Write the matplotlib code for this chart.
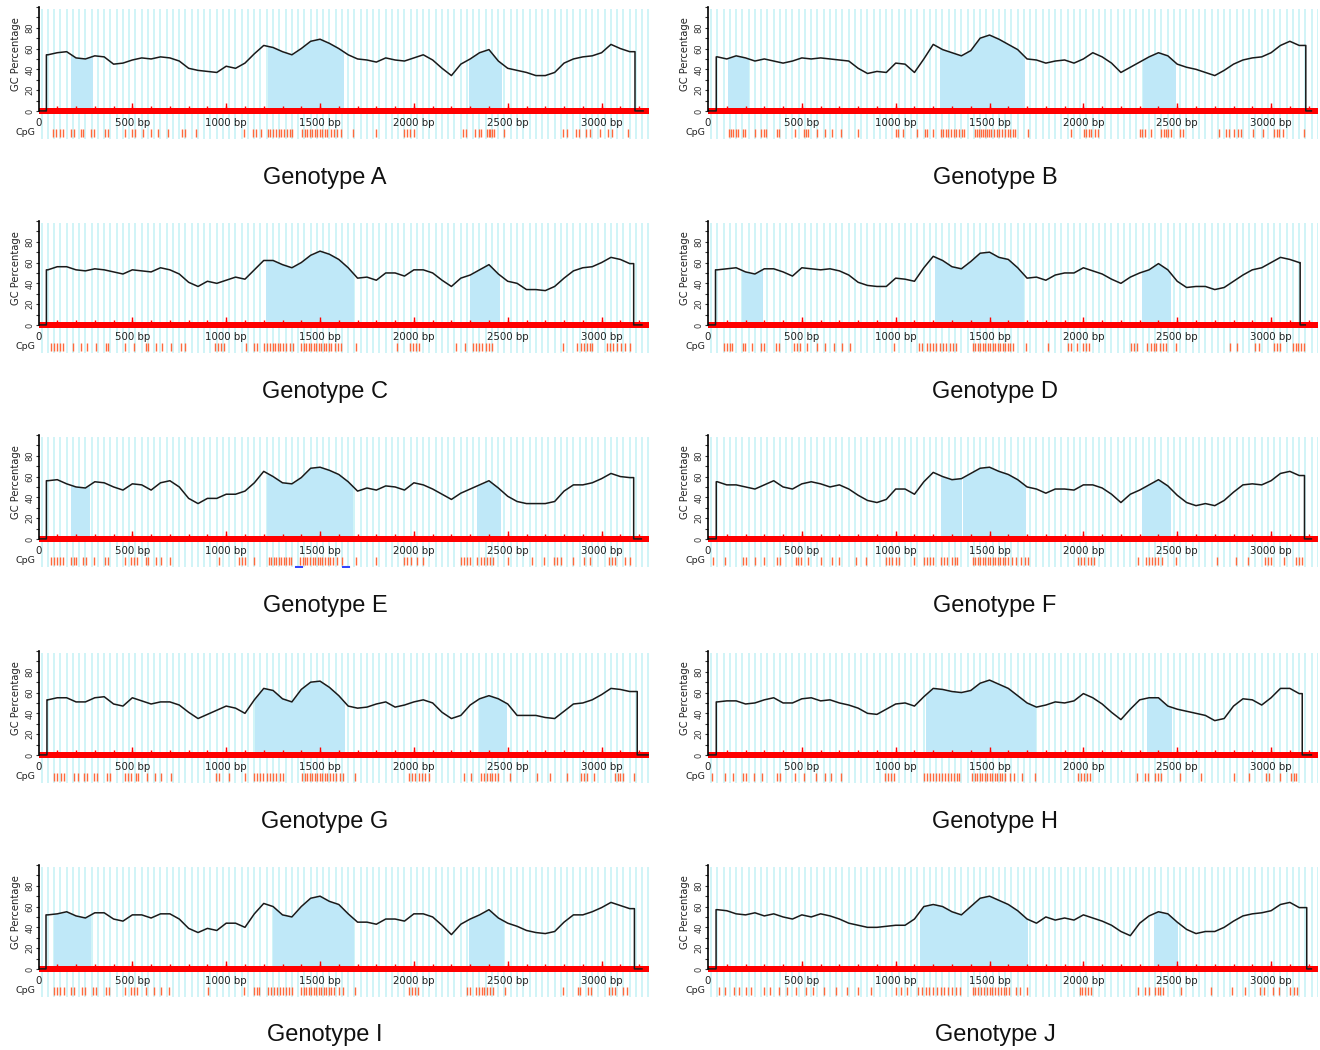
import matplotlib.pyplot as plt
from matplotlib.patches import Rectangle
from matplotlib.transforms import blended_transform_factory
import numpy as np

WIN_POS = list(range(50, 3151, 50))

GC_A = [54, 56, 57, 51, 50, 53, 52, 45, 46, 49, 51, 50, 52, 51, 48, 41, 39, 38, 37, 43,
        41, 46, 55, 63, 61, 57, 54, 60, 67, 69, 65, 60, 54, 50, 49, 47, 51, 49, 48, 51,
        54, 49, 41, 34, 45, 50, 56, 59, 48, 41, 39, 37, 34, 34, 37, 46, 50, 52, 53, 56,
        64, 60, 57]
GC_B = [52, 50, 53, 51, 48, 50, 48, 46, 48, 51, 50, 51, 50, 49, 48, 41, 36, 38, 37, 46,
        45, 37, 50, 64, 59, 56, 53, 58, 70, 73, 69, 64, 59, 50, 49, 46, 48, 49, 46, 50,
        56, 52, 46, 37, 42, 47, 52, 56, 53, 45, 42, 40, 37, 34, 39, 45, 49, 51, 52, 56,
        63, 67, 63]
GC_C = [53, 56, 56, 53, 52, 54, 53, 51, 49, 53, 52, 51, 55, 53, 49, 41, 37, 42, 40, 43,
        46, 44, 53, 62, 62, 58, 55, 60, 67, 71, 68, 63, 55, 45, 46, 43, 50, 50, 47, 53,
        53, 50, 43, 37, 45, 48, 53, 58, 49, 42, 40, 34, 34, 33, 37, 45, 52, 55, 56, 60,
        65, 63, 59]
GC_D = [53, 54, 55, 51, 49, 54, 54, 51, 47, 55, 54, 53, 54, 52, 48, 41, 38, 37, 37, 45,
        44, 42, 55, 66, 62, 56, 54, 61, 69, 70, 65, 63, 55, 45, 46, 43, 48, 50, 50, 55,
        52, 49, 44, 40, 46, 50, 53, 59, 53, 42, 36, 37, 37, 34, 36, 42, 48, 53, 55, 60,
        65, 63, 60]
GC_E = [56, 57, 53, 50, 49, 55, 54, 50, 47, 53, 52, 47, 54, 56, 50, 39, 34, 39, 39, 43,
        43, 46, 54, 65, 60, 54, 53, 59, 68, 69, 66, 62, 55, 46, 49, 47, 51, 50, 47, 54,
        52, 48, 43, 38, 44, 48, 52, 56, 49, 41, 36, 34, 34, 34, 36, 46, 52, 52, 54, 58,
        63, 60, 59]
GC_F = [55, 52, 52, 50, 48, 52, 56, 50, 48, 53, 55, 53, 50, 52, 48, 42, 37, 35, 38, 48,
        48, 43, 55, 64, 60, 57, 58, 63, 68, 69, 65, 62, 57, 50, 48, 44, 48, 48, 47, 52,
        52, 49, 43, 35, 43, 47, 52, 57, 51, 42, 35, 32, 34, 32, 37, 45, 52, 53, 52, 56,
        63, 65, 61]
GC_G = [53, 55, 55, 51, 51, 55, 56, 49, 47, 55, 52, 49, 51, 51, 48, 41, 35, 39, 43, 47,
        45, 40, 53, 64, 62, 54, 51, 63, 70, 71, 65, 57, 47, 45, 46, 49, 51, 46, 48, 51,
        53, 50, 41, 35, 38, 48, 54, 57, 54, 49, 38, 38, 38, 36, 35, 42, 49, 50, 53, 58,
        64, 63, 61]
GC_H = [51, 52, 52, 49, 50, 53, 55, 50, 50, 54, 55, 52, 53, 50, 48, 45, 40, 39, 44, 49,
        50, 47, 56, 64, 63, 61, 60, 62, 69, 72, 68, 64, 57, 50, 46, 48, 51, 50, 52, 59,
        55, 49, 41, 34, 44, 53, 55, 55, 47, 44, 42, 40, 38, 33, 35, 47, 54, 53, 48, 55,
        64, 64, 59]
GC_I = [52, 53, 55, 51, 49, 54, 54, 48, 46, 52, 52, 49, 53, 53, 48, 39, 35, 39, 37, 44,
        44, 40, 53, 63, 60, 52, 50, 60, 68, 70, 65, 62, 53, 45, 45, 43, 48, 48, 46, 53,
        53, 50, 42, 33, 43, 48, 52, 57, 49, 44, 41, 37, 35, 34, 36, 45, 52, 52, 55, 59,
        64, 61, 58]
GC_J = [57, 56, 53, 52, 54, 51, 53, 50, 48, 52, 50, 53, 51, 48, 44, 42, 40, 40, 41, 42,
        42, 48, 60, 62, 60, 55, 52, 60, 68, 70, 66, 62, 56, 48, 44, 50, 47, 49, 47, 52,
        49, 46, 42, 36, 32, 44, 51, 55, 53, 45, 38, 34, 36, 36, 40, 46, 51, 53, 54, 56,
        62, 64, 59]

CURVE_START = [42, 44, 42, 40, 42, 44, 45, 44, 40, 43]
CURVE_END = [3178, 3185, 3171, 3155, 3171, 3178, 3190, 3166, 3175, 3190]
GENOME_LEN = [3221, 3215, 3215, 3182, 3212, 3215, 3248, 3215, 3215, 3215]

# CpG islands (bp ranges, shaded)
ISL_A = [(175, 287), (1223, 1622), (2293, 2463)]
ISL_B = [(106, 213), (1234, 1360), (1366, 1681), (2319, 2489)]
ISL_C = [(1212, 1677), (2300, 2452)]
ISL_D = [(180, 286), (1210, 1677), (2310, 2462)]
ISL_E = [(171, 271), (1220, 1671), (2335, 2460)]
ISL_F = [(1244, 1350), (1356, 1689), (2311, 2462)]
ISL_G = [(1152, 1343), (1349, 1627), (2349, 2491)]
ISL_H = [(1160, 1740), (2340, 2468)]
ISL_I = [(80, 273), (1247, 1675), (2292, 2475)]
ISL_J = [(1128, 1364), (1370, 1700), (2378, 2500)]

# CpG dinucleotide positions
CPG_A = [78, 94, 112, 130, 174, 190, 224, 239, 280, 295, 353, 369, 459, 497, 515, 555, 600, 638,
         689, 765, 783, 839, 1096, 1141, 1157, 1186, 1221, 1235, 1248, 1264, 1280, 1293, 1309,
         1324, 1338, 1353, 1405, 1418, 1432, 1445, 1459, 1472, 1485, 1499, 1512, 1526, 1539,
         1557, 1575, 1593, 1611, 1673, 1796, 1946, 1964, 1980, 2002, 2260, 2277, 2327, 2345,
         2360, 2389, 2398, 2407, 2416, 2427, 2479, 2796, 2814, 2864, 2881, 2919, 2937, 2993,
         3036, 3054, 3143]
CPG_B = [110, 122, 135, 147, 160, 186, 199, 252, 284, 296, 309, 367, 379, 465, 509, 521, 532,
         580, 624, 663, 709, 798, 1002, 1014, 1039, 1112, 1156, 1168, 1200, 1241, 1254, 1266,
         1280, 1294, 1309, 1323, 1339, 1351, 1363, 1422, 1433, 1443, 1454, 1465, 1475, 1486,
         1496, 1507, 1525, 1539, 1553, 1567, 1582, 1596, 1610, 1624, 1638, 1706, 1936, 2004,
         2016, 2028, 2043, 2061, 2078, 2300, 2312, 2326, 2362, 2415, 2427, 2440, 2452, 2465,
         2513, 2530, 2725, 2761, 2778, 2805, 2823, 2840, 2903, 2956, 3018, 3032, 3044, 3062,
         3177]
CPG_C = [67, 82, 98, 116, 133, 182, 227, 260, 304, 360, 371, 460, 511, 571, 582, 627, 660, 704,
         760, 778, 938, 956, 971, 989, 1104, 1149, 1164, 1204, 1218, 1231, 1249, 1262, 1276,
         1289, 1304, 1320, 1338, 1356, 1400, 1413, 1427, 1440, 1453, 1467, 1480, 1493, 1507,
         1520, 1533, 1547, 1560, 1578, 1596, 1613, 1689, 1911, 1978, 1993, 2009, 2027, 2222,
         2271, 2316, 2333, 2349, 2364, 2382, 2400, 2416, 2793, 2871, 2889, 2904, 2922, 2938,
         2949, 3027, 3044, 3060, 3082, 3104, 3127, 3149]
CPG_D = [84, 100, 115, 130, 184, 199, 235, 283, 299, 361, 376, 460, 476, 491, 527, 582, 626,
         670, 715, 759, 991, 1124, 1139, 1168, 1184, 1199, 1217, 1235, 1252, 1270, 1288, 1305,
         1323, 1412, 1425, 1438, 1451, 1465, 1478, 1491, 1504, 1518, 1531, 1544, 1558, 1571,
         1584, 1597, 1611, 1624, 1695, 1810, 1920, 1936, 1965, 1998, 2013, 2029, 2252, 2268,
         2283, 2341, 2358, 2374, 2389, 2407, 2423, 2438, 2496, 2783, 2816, 2916, 2938, 3013,
         3031, 3049, 3115, 3131, 3146, 3162, 3177]
CPG_E = [67, 82, 98, 116, 133, 171, 187, 200, 238, 253, 298, 356, 371, 460, 493, 511, 527, 571,
         582, 627, 653, 698, 960, 1067, 1082, 1098, 1149, 1227, 1240, 1253, 1267, 1280, 1293,
         1307, 1320, 1333, 1347, 1393, 1407, 1420, 1433, 1447, 1460, 1473, 1487, 1500, 1513,
         1527, 1540, 1553, 1571, 1593, 1616, 1689, 1800, 1949, 1964, 1982, 2016, 2049, 2249,
         2267, 2282, 2298, 2338, 2356, 2371, 2387, 2404, 2422, 2504, 2627, 2693, 2749, 2764,
         2782, 2849, 2904, 2938, 3038, 3053, 3071, 3127, 3149]
CPG_F = [27, 89, 189, 204, 249, 300, 367, 382, 467, 482, 498, 533, 600, 662, 700, 789, 844, 951,
         967, 982, 1000, 1018, 1100, 1151, 1167, 1182, 1200, 1240, 1256, 1271, 1300, 1316, 1329,
         1411, 1424, 1438, 1451, 1464, 1478, 1491, 1504, 1518, 1531, 1544, 1558, 1571, 1584,
         1598, 1618, 1640, 1667, 1689, 1707, 1973, 1989, 2004, 2022, 2040, 2058, 2289, 2333,
         2351, 2367, 2382, 2400, 2418, 2493, 2711, 2811, 2878, 2967, 2982, 3000, 3067, 3133,
         3149, 3164]
CPG_G = [85, 101, 119, 136, 190, 208, 242, 257, 298, 311, 365, 380, 459, 477, 492, 521, 532,
         577, 622, 655, 705, 946, 964, 1013, 1098, 1148, 1163, 1179, 1195, 1215, 1233, 1251,
         1268, 1286, 1304, 1405, 1418, 1432, 1445, 1459, 1472, 1485, 1499, 1512, 1526, 1539,
         1553, 1568, 1586, 1604, 1622, 1685, 1975, 1991, 2007, 2025, 2043, 2060, 2078, 2266,
         2306, 2356, 2371, 2387, 2403, 2418, 2434, 2450, 2512, 2658, 2725, 2814, 2893, 2908,
         2924, 2960, 3069, 3085, 3100, 3116, 3172]
CPG_H = [22, 89, 133, 188, 200, 244, 288, 366, 381, 466, 510, 576, 621, 654, 710, 942, 958,
         973, 989, 1153, 1169, 1184, 1200, 1215, 1231, 1246, 1262, 1277, 1293, 1308, 1324, 1339,
         1408, 1421, 1435, 1448, 1461, 1475, 1488, 1501, 1514, 1528, 1541, 1554, 1568, 1585,
         1608, 1630, 1674, 1741, 1973, 1989, 2004, 2020, 2035, 2284, 2328, 2344, 2384, 2399,
         2415, 2517, 2627, 2805, 2882, 2971, 2987, 3049, 3104, 3120, 3135]
CPG_I = [84, 100, 117, 135, 173, 188, 232, 250, 290, 305, 361, 376, 460, 493, 511, 527, 571,
         615, 653, 697, 903, 1097, 1146, 1162, 1177, 1223, 1239, 1254, 1270, 1285, 1301, 1316,
         1334, 1350, 1400, 1414, 1427, 1440, 1454, 1467, 1480, 1493, 1507, 1520, 1533, 1546,
         1560, 1577, 1600, 1622, 1688, 1976, 1991, 2007, 2024, 2285, 2301, 2330, 2345, 2361,
         2376, 2392, 2407, 2423, 2485, 2794, 2872, 2887, 2927, 2945, 3038, 3053, 3069, 3115,
         3137]
CPG_J = [60, 90, 140, 165, 200, 230, 300, 330, 380, 420, 470, 520, 560, 620, 680, 740, 800,
         870, 1000, 1030, 1060, 1120, 1140, 1160, 1180, 1200, 1220, 1240, 1260, 1280, 1300,
         1320, 1340, 1410, 1425, 1440, 1455, 1470, 1485, 1500, 1515, 1530, 1545, 1560, 1575,
         1590, 1605, 1640, 1660, 1700, 1980, 1995, 2010, 2025, 2040, 2290, 2330, 2350, 2380,
         2395, 2410, 2425, 2520, 2680, 2790, 2860, 2940, 2960, 3010, 3040, 3100, 3120, 3140]

E_MARKS = [1387, 1638]  # small blue marks under genotype E CpG row

NAMES = ['A', 'B', 'C', 'D', 'E', 'F', 'G', 'H', 'I', 'J']
GC_ALL = [GC_A, GC_B, GC_C, GC_D, GC_E, GC_F, GC_G, GC_H, GC_I, GC_J]
ISL_ALL = [ISL_A, ISL_B, ISL_C, ISL_D, ISL_E, ISL_F, ISL_G, ISL_H, ISL_I, ISL_J]
CPG_ALL = [CPG_A, CPG_B, CPG_C, CPG_D, CPG_E, CPG_F, CPG_G, CPG_H, CPG_I, CPG_J]

W, H = 1320, 1050
XMAX = 3250
ROW_TOP = [7, 221, 435, 651, 865]
TITLE_Y = [178, 392, 606, 822, 1035]
COL_LEFT = [38.5, 708]
TITLE_X = [325, 995]
AX_W, AX_H = 610, 133

STRIPE = '#cdf3f7'
ISLAND = '#bfe8f8'
CPG_COL = '#ff6a3d'


def draw_panel(ax, i):
    gc = GC_ALL[i]
    ax.set_xlim(0, XMAX)
    ax.set_ylim(-28, 100)
    ax.vlines(np.arange(16, XMAX, 100 / 3), -27, 98, color=STRIPE, lw=1.3, zorder=0)

    x = [0, CURVE_START[i], CURVE_START[i]] + WIN_POS + [CURVE_END[i], CURVE_END[i], GENOME_LEN[i]]
    y = [0, 0, gc[0]] + gc + [gc[-1], 0, 0]

    for s, e in ISL_ALL[i]:
        f = ax.fill_between(x, 0, y, color=ISLAND, lw=0, zorder=1)
        f.set_clip_path(Rectangle((s, -1), e - s, 102, transform=ax.transData))

    # red sequence bar with ruler ticks
    ax.fill_between([0, XMAX], -2.8, 2.8, color='#ff0000', lw=0, zorder=2)
    ax.vlines(range(100, XMAX, 100), 2, 5, color='#ff0000', lw=1.0, zorder=2)
    ax.vlines(range(500, XMAX, 500), 2, 8, color='#ff0000', lw=1.0, zorder=2)

    ax.plot(x, y, color='#1a1a1a', lw=1.1, zorder=3)

    ax.vlines(CPG_ALL[i], -25, -17, color=CPG_COL, lw=1.0, zorder=2)
    if NAMES[i] == 'E':
        for m in E_MARKS:
            ax.plot([m - 15, m + 15], [-27, -27], color='#3344ff', lw=1.5, zorder=3)

    for k in range(0, 3001, 500):
        lab = '0' if k == 0 else f'{k} bp'
        ax.text(k, -11.5, lab, ha='center', va='center', fontsize=7.4, color='#222222')

    tr = blended_transform_factory(ax.transAxes, ax.transData)
    ax.text(-0.005, -21, 'CpG', transform=tr, ha='right', va='center',
            fontsize=6.8, color='#222222')
    ax.text(-0.037, 55, 'GC Percentage', transform=tr, ha='center', va='center',
            rotation=90, fontsize=7.2, color='#222222')

    for sp in ['top', 'right', 'bottom']:
        ax.spines[sp].set_visible(False)
    ax.spines['left'].set_bounds(0, 100)
    ax.spines['left'].set_linewidth(1.2)
    ax.spines['left'].set_zorder(4)
    ax.set_xticks([])
    ax.set_yticks([0, 20, 40, 60, 80])
    ax.set_yticks([10, 30, 50, 70, 90, 100], minor=True)
    ax.tick_params(axis='y', which='both', length=2.5, width=0.8, direction='out',
                   color='#333333', labelsize=6, labelcolor='#333333', pad=0.6)
    for t in ax.get_yticklabels():
        t.set_rotation(90)
        t.set_va('center')


fig = plt.figure(figsize=(W / 100, H / 100), dpi=100)
for i, name in enumerate(NAMES):
    row, col = divmod(i, 2)
    left = COL_LEFT[col] / W
    bottom = 1 - (ROW_TOP[row] + AX_H) / H
    ax = fig.add_axes([left, bottom, AX_W / W, AX_H / H])
    draw_panel(ax, i)
    fig.text(TITLE_X[col] / W, 1 - TITLE_Y[row] / H, f'Genotype {name}',
             ha='center', va='center', fontsize=17, family='Liberation Sans',
             color='#111111')

fig.savefig('out.png', dpi=100)
